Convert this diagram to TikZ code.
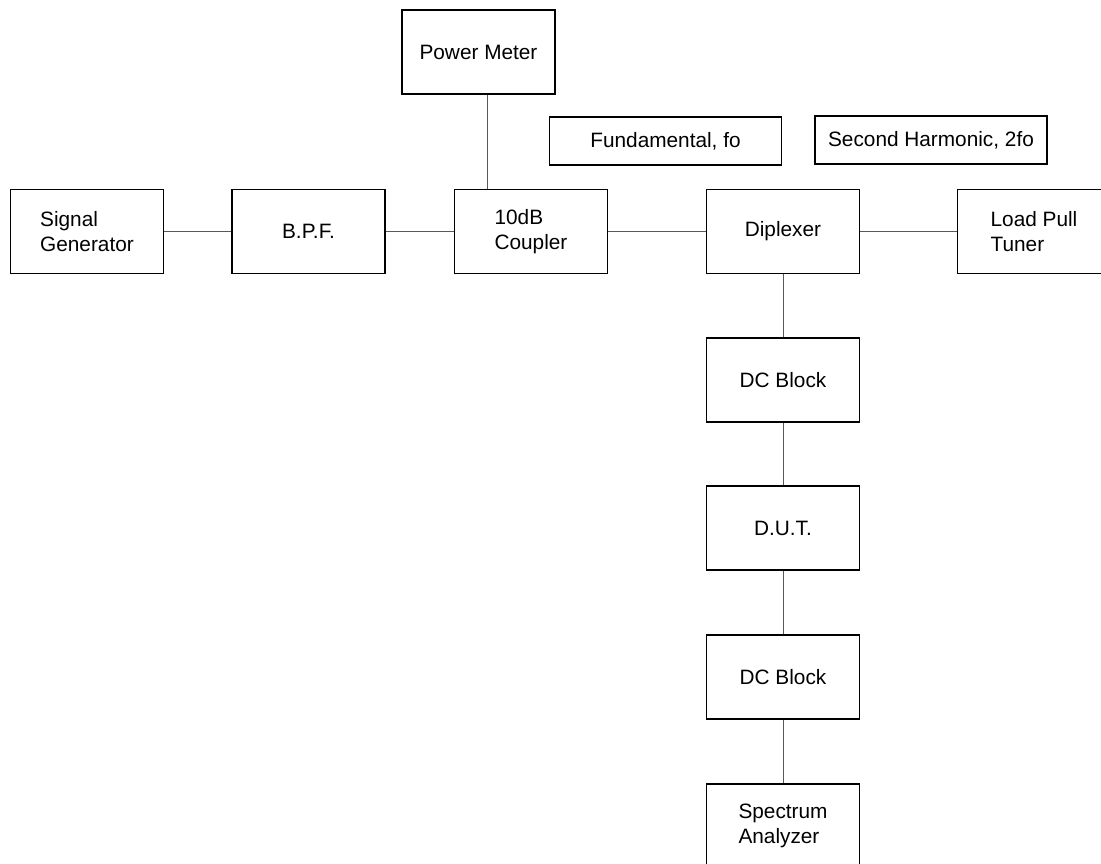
\documentclass[tikz,border=0pt]{standalone}
\usepackage{fontspec}
\setmainfont{Liberation Sans}

\begin{document}
\begin{tikzpicture}[x=1pt, y=-1pt,
        font=\fontsize{20.8}{25}\selectfont,
        blk/.style={draw, line width=1.8pt, minimum width=153pt, minimum height=84pt, align=left, inner sep=0pt},
        band/.style={draw, line width=1.8pt, minimum width=232pt, minimum height=48pt, inner sep=0pt},
        wire/.style={draw=black!65, line width=1pt}]
            %\draw[lightgray] (0, 0) grid (1101, 864);
            \useasboundingbox (0, 0) rectangle (1101, 864);
            \clip (0, 0) rectangle (1101, 864);
            \node[blk] (sg) at (87, 231.5) {Signal\\Generator};
            \node[blk] (bpf) at (308.5, 231.5) {B.P.F.};
            \node[blk] (cpl) at (531, 231.5) {10dB\\Coupler};
            \node[blk] (dip) at (783, 231.5) {Diplexer};
            \node[blk] (lpt) at (1034, 231.5) {Load Pull\\Tuner};
            \node[blk] (pm) at (478.5, 52) {Power Meter};
            \node[blk] (dca) at (783, 380) {DC Block};
            \node[blk] (dut) at (783, 528) {D.U.T.};
            \node[blk] (dcb) at (783, 677) {DC Block};
            \node[blk] (sa) at (783, 826) {Spectrum\\Analyzer};
            \node[band] (fo) at (665.5, 141) {Fundamental, fo};
            \node[band] (tfo) at (931, 140) {Second Harmonic, 2fo};
            \draw[wire] (sg) -- (bpf);
            \draw[wire] (bpf) -- (cpl);
            \draw[wire] (cpl) -- (dip);
            \draw[wire] (dip) -- (lpt);
            \draw[wire] ([xshift=8.5pt]pm.south) -- ([xshift=8.5pt]pm.south |- cpl.north);
            \draw[wire] (dip) -- (dca);
            \draw[wire] (dca) -- (dut);
            \draw[wire] (dut) -- (dcb);
            \draw[wire] (dcb) -- (sa);
        \end{tikzpicture}
\end{document}
